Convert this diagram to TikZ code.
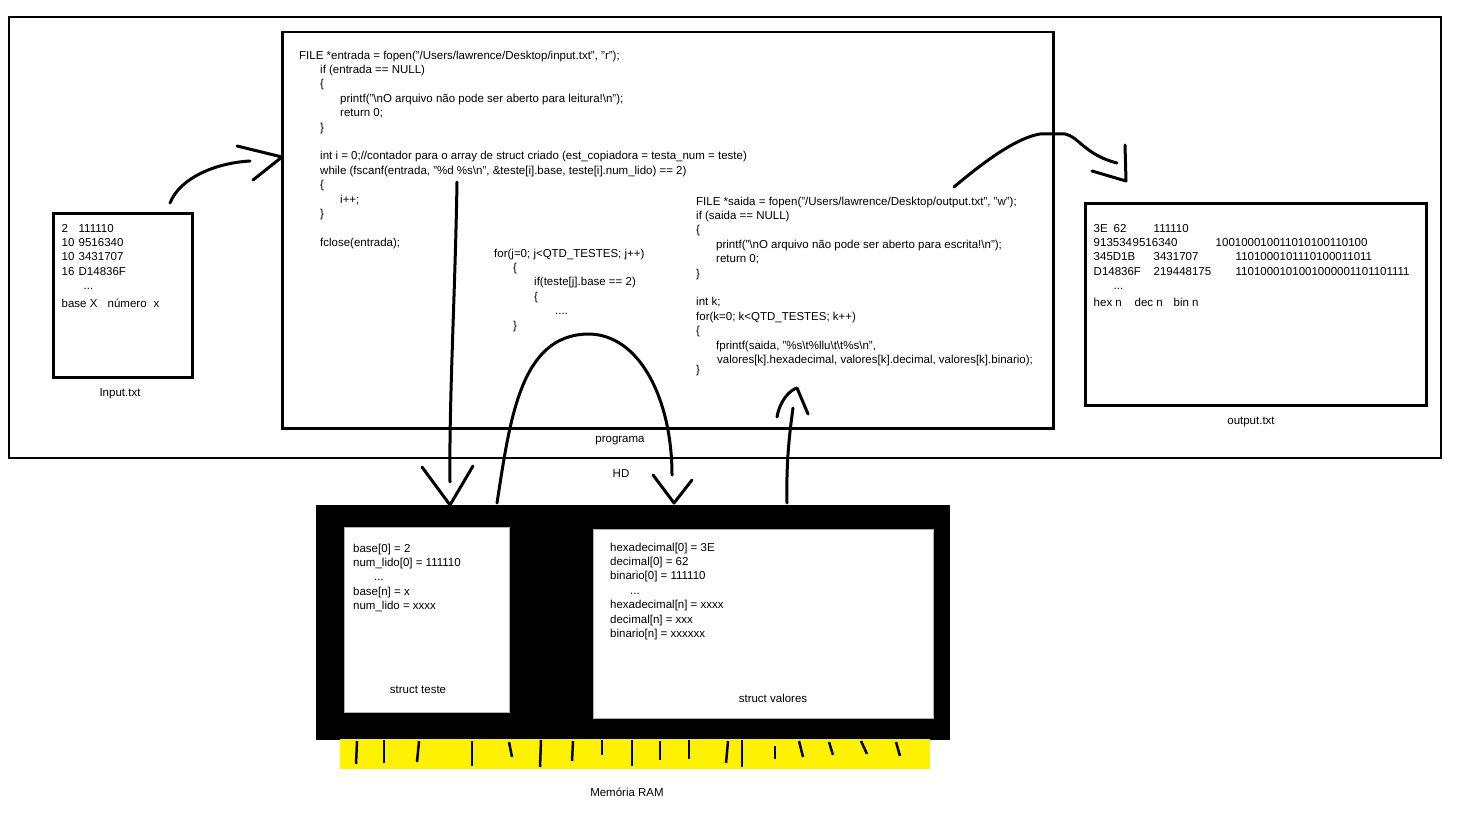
\documentclass[tikz,border=0pt]{standalone}
\usepackage{fontspec}
\setmainfont{Liberation Sans}
\newcommand{\colat}[2]{\makebox[0pt][l]{\hspace*{#1}#2}}

\begin{document}
\begin{tikzpicture}[x=1pt,y=-1pt,
    codetext/.style={font=\fontsize{11.5}{14.4}\selectfont, inner sep=0pt, align=left, anchor=north west},
    lbl/.style={font=\fontsize{11.5}{14.4}\selectfont, inner sep=0pt, text height=8pt, text depth=0pt},
    frame/.style={draw, anchor=north west, inner sep=0pt},
    pen/.style={line width=3pt, line cap=round, line join=round}]
    \useasboundingbox (0,0) rectangle (1474,829);

    % disk and program
    \node[frame, line width=2pt, minimum width=1432pt, minimum height=441pt] (hd) at (8,16) {};
    \node[frame, line width=2.5pt, minimum width=771pt, minimum height=396pt] (prog) at (281,31) {};
    \node[frame, line width=3pt, minimum width=139pt, minimum height=164pt] (inbox) at (52,212) {};
    \node[frame, line width=3pt, minimum width=341pt, minimum height=202pt] (outbox) at (1084,202) {};

    \node[lbl] (labIn) at (120,392) {Input.txt};
    \node[lbl] (labOut) at (1251,420) {output.txt};
    \node[lbl] (labProg) at (620,438) {programa};
    \node[lbl] (labHD) at (621,473) {HD};

    % memory
    \node[frame, fill=black, minimum width=633pt, minimum height=234pt] (ram) at (316,505) {};
    \node[frame, fill=white, draw=gray!60, line width=0.5pt, minimum width=165pt, minimum height=185pt] (teste) at (344,527) {};
    \node[frame, fill=white, draw=gray!60, line width=0.5pt, minimum width=340pt, minimum height=189pt] (valores) at (593,529) {};
    \node[frame, fill=yellow, draw=none, minimum width=590pt, minimum height=30pt] (strip) at (340,739) {};
    \foreach \xa/\ya/\xb/\yb in {357/741/356/764, 384/740/384/763, 419/741/417/762, 472/741/472/766,
        509/742/512/757, 541/740/540/767, 573/741/572/761, 602/740/602/755, 632/740/632/766,
        660/741/660/760, 689/740/689/759, 728/741/726/763, 742/740/742/767, 775/746/775/759,
        799/741/803/757, 829/742/833/755, 861/741/867/754, 896/742/900/756}
        \draw[pen, line width=2.5pt, line cap=butt] (\xa,\ya) -- (\xb,\yb);
    \node[lbl] (labRAM) at (627,792) {Memória RAM};
    \node[lbl] (labTeste) at (418,689) {struct teste};
    \node[lbl] (labValores) at (773,698) {struct valores};

    % file contents
    \node[codetext] (inTxt) at (61,221.8) {\strut\colat{0pt}{2}\colat{17pt}{111110}\\
        \colat{0pt}{10}\colat{17pt}{9516340}\\
        \colat{0pt}{10}\colat{17pt}{3431707}\\
        \colat{0pt}{16}\colat{17pt}{D14836F}\\
        \colat{22pt}{...}\\[3pt]
        \colat{0pt}{base X}\colat{46pt}{número}\colat{92pt}{x}};
    \node[codetext] (outTxt) at (1093,221.8) {\strut\colat{0pt}{3E}\colat{20pt}{62}\colat{60pt}{111110}\\
        \colat{0pt}{913534}\colat{39pt}{9516340}\colat{122pt}{100100010011010100110100}\\
        \colat{0pt}{345D1B}\colat{60pt}{3431707}\colat{142pt}{1101000101110100011011}\\
        \colat{0pt}{D14836F}\colat{60pt}{219448175}\colat{142pt}{1101000101001000001101101111}\\
        \colat{20pt}{...}\\[2pt]
        \colat{0pt}{hex n}\colat{41pt}{dec n}\colat{80pt}{bin n}};

    % program code
    \node[codetext] (codeIn) at (299,48.8) {\strut FILE *entrada = fopen("/Users/lawrence/Desktop/input.txt", "r");\\
        \hspace*{21pt}if (entrada == NULL)\\
        \hspace*{21pt}\{\\
        \hspace*{41pt}printf("\textbackslash nO arquivo não pode ser aberto para leitura!\textbackslash n");\\
        \hspace*{41pt}return 0;\\
        \hspace*{21pt}\}\\[14.4pt]
        \hspace*{21pt}int i = 0;//contador para o array de struct criado (est\_copiadora = testa\_num = teste)\\
        \hspace*{21pt}while (fscanf(entrada, "\%d \%s\textbackslash n", \&teste[i].base, teste[i].num\_lido) == 2)\\
        \hspace*{21pt}\{\\
        \hspace*{41pt}i++;\\
        \hspace*{21pt}\}\\[14.4pt]
        \hspace*{21pt}fclose(entrada);};
    \node[codetext] (codeFor) at (494,246.8) {\strut for(j=0; j<QTD\_TESTES; j++)\\
        \hspace*{19pt}\{\\
        \hspace*{40pt}if(teste[j].base == 2)\\
        \hspace*{40pt}\{\\
        \hspace*{61pt}....\\
        \hspace*{19pt}\}};
    \node[codetext] (codeOut) at (696,194.8) {\strut FILE *saida = fopen("/Users/lawrence/Desktop/output.txt", "w");\\
        if (saida == NULL)\\
        \{\\
        \hspace*{20pt}printf("\textbackslash nO arquivo não pode ser aberto para escrita!\textbackslash n");\\
        \hspace*{20pt}return 0;\\
        \}\\[14.4pt]
        int k;\\
        for(k=0; k<QTD\_TESTES; k++)\\
        \{\\
        \hspace*{20pt}fprintf(saida, "\%s\textbackslash t\%llu\textbackslash t\textbackslash t\%s\textbackslash n",\\
        \hspace*{21pt}valores[k].hexadecimal, valores[k].decimal, valores[k].binario);\\[-4pt]
        \}};

    % struct contents
    \node[codetext] (testeTxt) at (353,541.8) {\strut base[0] = 2\\
        num\_lido[0] = 111110\\
        \hspace*{21pt}...\\
        base[n] = x\\
        num\_lido = xxxx};
    \node[codetext] (valoresTxt) at (610,540.8) {\strut hexadecimal[0] = 3E\\
        decimal[0] = 62\\
        binario[0] = 111110\\
        \hspace*{20pt}...\\
        hexadecimal[n] = xxxx\\
        decimal[n] = xxx\\
        binario[n] = xxxxxx};

    % hand drawn arrows
    \coordinate (readS) at (170,203);
    \coordinate (readE) at (250,161);
    \coordinate (readTip) at (282,157);
    \draw[pen] (readS) .. controls (180,178) and (215,163) .. (readE);
    \draw[pen] (237,146) -- (readTip) -- (253,180);

    \coordinate (writeS) at (954,187);
    \coordinate (writeE) at (1117,163);
    \coordinate (writeTip) at (1126,181);
    \draw[pen] (writeS) .. controls (980,165) and (1015,138) .. (1040,134) -- (1065,134)
        .. controls (1078,136) and (1085,155) .. (writeE);
    \draw[pen] (1125,145) -- (writeTip) -- (1092,171);

    \coordinate (loadS) at (457,182);
    \coordinate (loadE) at (450,482);
    \coordinate (loadTip) at (450,505);
    \draw[pen] (loadS) .. controls (455,300) and (449,400) .. (loadE);
    \draw[pen] (422,467) -- (loadTip) -- (473,466);

    \coordinate (convS) at (497,503);
    \coordinate (convE) at (672,475);
    \coordinate (convTip) at (674,503);
    \draw[pen] (convS) .. controls (510,420) and (520,335) .. (588,334)
        .. controls (640,334) and (672,400) .. (convE);
    \draw[pen] (653,475) -- (convTip) -- (692,480);

    \coordinate (saveS) at (787,503);
    \coordinate (saveE) at (793,408);
    \coordinate (saveTip) at (797,388);
    \draw[pen] (saveS) .. controls (786,460) and (790,430) .. (saveE);
    \draw[pen] (777,417) .. controls (780,400) and (790,390) .. (saveTip) -- (808,414);
\end{tikzpicture}
\end{document}
